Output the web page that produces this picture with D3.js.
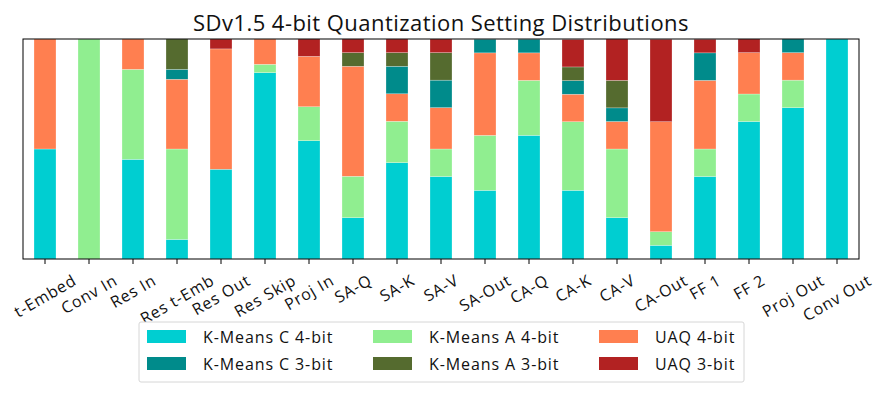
<!DOCTYPE html>
<html>
<head>
<meta charset="utf-8">
<script src="https://cdn.jsdelivr.net/npm/d3@7"></script>
<style>
  body { margin: 0; background: #fff; }
  svg text { font-family: "Open Sans", "DejaVu Sans", sans-serif; fill: #111; }
</style>
</head>
<body>
<svg id="chart" width="887" height="394"></svg>
<script>
const categories = ["t-Embed", "Conv In", "Res In", "Res t-Emb", "Res Out", "Res Skip", "Proj In",
    "SA-Q", "SA-K", "SA-V", "SA-Out", "CA-Q", "CA-K", "CA-V", "CA-Out", "FF 1", "FF 2", "Proj Out", "Conv Out"];

// fractions per layer type
const kmeansC4 = [0.5, 0, 0.453, 0.089, 0.408, 0.847, 0.538, 0.188, 0.438, 0.375, 0.312, 0.562, 0.312, 0.188, 0.062, 0.375, 0.625, 0.688, 1];
const kmeansA4 = [0, 1, 0.409, 0.411, 0, 0.038, 0.154, 0.188, 0.188, 0.125, 0.25, 0.25, 0.312, 0.312, 0.062, 0.125, 0.125, 0.125, 0];
const uaq4     = [0.5, 0, 0.138, 0.317, 0.547, 0.115, 0.229, 0.5, 0.125, 0.188, 0.375, 0.125, 0.125, 0.125, 0.5, 0.312, 0.188, 0.125, 0];
const kmeansC3 = [0, 0, 0, 0.045, 0, 0, 0, 0, 0.125, 0.125, 0.062, 0.062, 0.062, 0.062, 0, 0.125, 0, 0.062, 0];
const kmeansA3 = [0, 0, 0, 0.138, 0, 0, 0, 0.062, 0.062, 0.125, 0, 0, 0.062, 0.125, 0, 0, 0, 0, 0];
const uaq3     = [0, 0, 0, 0, 0.045, 0, 0.079, 0.062, 0.062, 0.062, 0, 0, 0.125, 0.188, 0.375, 0.062, 0.062, 0, 0];

const seriesNames = ["K-Means C 4-bit", "K-Means A 4-bit", "UAQ 4-bit", "K-Means C 3-bit", "K-Means A 3-bit", "UAQ 3-bit"];
const seriesValues = [kmeansC4, kmeansA4, uaq4, kmeansC3, kmeansA3, uaq3];
const colors = ["#00CED1", "#90EE90", "#FF7F50", "#008B8B", "#556B2F", "#B22222"];

const margin = { top: 39, right: 28, bottom: 135, left: 23 };
const width = 887 - margin.left - margin.right;
const height = 394 - margin.top - margin.bottom;

const svg = d3.select("#chart");
const g = svg.append("g").attr("transform", `translate(${margin.left},${margin.top})`);

const x = d3.scaleBand()
    .domain(categories)
    .range([0, width])
    .paddingInner(0.5)
    .paddingOuter(0.25);

const y = d3.scaleLinear().domain([0, 1]).range([height, 0]);

// build rows for d3.stack
const rows = categories.map((c, i) => {
    const row = { category: c };
    seriesNames.forEach((s, j) => { row[s] = seriesValues[j][i]; });
    return row;
});
const stacked = d3.stack().keys(seriesNames)(rows);

g.selectAll("g.layer")
    .data(stacked)
    .join("g")
    .attr("class", "layer")
    .attr("fill", (d, i) => colors[i])
    .selectAll("rect")
    .data(d => d.filter(p => p[1] - p[0] > 0))
    .join("rect")
    .attr("x", d => x(d.data.category))
    .attr("width", x.bandwidth())
    .attr("y", d => y(d[1]))
    .attr("height", d => y(d[0]) - y(d[1]))
    .attr("stroke", "#fff")
    .attr("stroke-opacity", 0.5)
    .attr("stroke-width", 0.5);

// x axis
const xAxis = g.append("g")
    .attr("transform", `translate(0,${height})`)
    .call(d3.axisBottom(x).tickSize(5).tickPadding(0));
xAxis.select(".domain").remove();
xAxis.selectAll(".tick line").attr("stroke", "#000").attr("stroke-width", 1);
xAxis.selectAll(".tick text")
    .style("font-size", "16px")
    .style("letter-spacing", "0.8px")
    .attr("text-anchor", "middle")
    .attr("dominant-baseline", "central")
    .attr("dy", null)
    .each(function () {
        const w = this.getComputedTextLength();
        const h = 15;
        const ext = w * 0.5 + h * 0.866;
        const cy = 13 + ext / 2;
        d3.select(this).attr("y", null)
            .attr("transform", `translate(0,${cy}) rotate(-30)`);
    });

// frame
g.append("rect")
    .attr("width", width).attr("height", height)
    .attr("fill", "none").attr("stroke", "#000").attr("stroke-width", 1);

// title
svg.append("text")
    .attr("x", margin.left + width / 2)
    .attr("y", 30.5)
    .attr("text-anchor", "middle")
    .style("font-size", "22px")
    .style("letter-spacing", "0.45px")
    .text("SDv1.5 4-bit Quantization Setting Distributions");

// legend
const legend = svg.append("g").attr("transform", "translate(139,322)");
legend.append("rect")
    .attr("width", 605).attr("height", 60)
    .attr("rx", 2)
    .attr("fill", "#fff").attr("stroke", "#d6d6d6").attr("stroke-width", 1);

const legendOrder = [0, 3, 1, 4, 2, 5];
const colX = [8, 234, 460];
legendOrder.forEach((s, k) => {
    const col = Math.floor(k / 2), row = k % 2;
    const item = legend.append("g")
        .attr("transform", `translate(${colX[col]},${8 + row * 27})`);
    item.append("rect")
        .attr("width", 39).attr("height", 13)
        .attr("fill", colors[s]);
    item.append("text")
        .attr("x", 56).attr("y", 13)
        .style("font-size", "16px")
        .style("letter-spacing", "0.9px")
        .text(seriesNames[s]);
});
</script>
</body>
</html>
